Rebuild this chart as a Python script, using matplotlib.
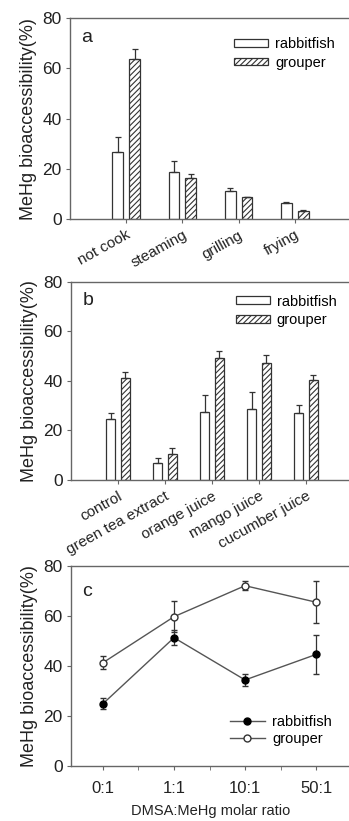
import numpy as np
import matplotlib
matplotlib.use('Agg')
import matplotlib.pyplot as plt
from matplotlib.lines import Line2D

# panel a: cooking treatments
cook_labels = ['not cook', 'steaming', 'grilling', 'frying']
cook_rabbit = [26.6, 18.7, 11.2, 6.5]
cook_rabbit_err = [5.9, 4.5, 1.0, 0.3]
cook_grouper = [63.7, 16.3, 8.6, 3.3]
cook_grouper_err = [4.0, 1.6, 0.3, 0.3]

# panel b: food additives
food_labels = ['control', 'green tea extract', 'orange juice', 'mango juice', 'cucumber juice']
food_rabbit = [24.6, 6.9, 27.6, 28.5, 27.0]
food_rabbit_err = [2.3, 1.8, 6.7, 7.0, 3.3]
food_grouper = [41.0, 10.6, 49.1, 47.1, 40.5]
food_grouper_err = [2.7, 2.4, 3.1, 3.5, 2.0]

# panel c: DMSA ratio
ratio_labels = ['0:1', '1:1', '10:1', '50:1']
ratio_rabbit = [24.8, 51.2, 34.3, 44.5]
ratio_rabbit_err = [2.1, 3.1, 2.5, 7.7]
ratio_grouper = [41.2, 59.6, 72.0, 65.4]
ratio_grouper_err = [2.7, 6.3, 1.7, 8.4]

plt.rcParams['font.family'] = ['Liberation Sans', 'DejaVu Sans']
plt.rcParams['hatch.linewidth'] = 0.8
plt.rcParams['hatch.color'] = '#333333'

W, H = 349, 821
dark = '#333333'
spine = '#666666'


def place(fig, left, right, top, bottom):
    # pixel box -> figure fraction
    return fig.add_axes([left / W, 1 - bottom / H, (right - left) / W, (bottom - top) / H])


def style_axes(ax):
    for s in ax.spines.values():
        s.set_color(spine)
        s.set_linewidth(1.0)
    ax.spines['right'].set_visible(False)  # cut off in the original
    ax.set_ylim(0, 80)
    ax.set_yticks([0, 20, 40, 60, 80])
    ax.tick_params(axis='y', labelsize=12.5, length=3, color=spine, labelcolor='#222222', pad=3)
    ax.tick_params(axis='x', length=3, color=spine, labelcolor='#222222')
    ax.set_ylabel('MeHg bioaccessibility(%)', fontsize=13, color='#222222', labelpad=4)


def bar_panel(ax, labels, rabbit, rabbit_err, grouper, grouper_err, letter, leg_y):
    x = np.arange(len(labels))
    w = 0.19
    off = 0.15
    ax.bar(x - off, rabbit, w, color='white', edgecolor=dark, linewidth=0.9, label='rabbitfish')
    ax.bar(x + off, grouper, w, color='white', edgecolor=dark, linewidth=0.9,
           hatch='//////', label='grouper')
    ax.errorbar(x - off, rabbit, yerr=[np.zeros(len(x)), rabbit_err], fmt='none',
                ecolor=dark, elinewidth=0.9, capsize=2.5, capthick=0.9)
    ax.errorbar(x + off, grouper, yerr=[np.zeros(len(x)), grouper_err], fmt='none',
                ecolor=dark, elinewidth=0.9, capsize=2.5, capthick=0.9)
    ax.set_xlim(-1, len(labels))
    ax.set_xticks(x)
    ax.set_xticklabels(labels, rotation=29, ha='right', rotation_mode='anchor', fontsize=11)
    style_axes(ax)
    ax.text(0.04, 0.905, letter, transform=ax.transAxes, fontsize=14, va='center', color='#222222')
    ax.legend(loc='upper left', bbox_to_anchor=(0.585, leg_y), frameon=False, fontsize=10.5,
              handlelength=2.3, handleheight=0.45, handletextpad=0.5, labelspacing=0.3,
              borderpad=0, borderaxespad=0)


fig = plt.figure(figsize=(W / 100, H / 100), dpi=100)

ax_a = place(fig, 70, 351, 18.3, 219)
bar_panel(ax_a, cook_labels, cook_rabbit, cook_rabbit_err, cook_grouper, cook_grouper_err, 'a', 0.905)

ax_b = place(fig, 71, 353, 281.7, 480)
bar_panel(ax_b, food_labels, food_rabbit, food_rabbit_err, food_grouper, food_grouper_err, 'b', 0.935)

# line plot panel
ax_c = place(fig, 71, 349.5, 565.7, 765.7)
xc = np.arange(len(ratio_labels))
ax_c.errorbar(xc, ratio_rabbit, yerr=ratio_rabbit_err, color='#555555', lw=1.0, marker='o',
              ms=5, mfc='black', mec='black', ecolor=dark, elinewidth=0.9, capsize=2.5)
ax_c.errorbar(xc, ratio_grouper, yerr=ratio_grouper_err, color='#555555', lw=1.0, marker='o',
              ms=5, mfc='white', mec=dark, ecolor=dark, elinewidth=0.9, capsize=2.5)
ax_c.set_xlim(-0.45, 3.47)
ax_c.set_xticks(xc)
ax_c.set_xticks(xc[:-1] + 0.5, minor=True)
ax_c.set_xticklabels(ratio_labels, fontsize=12)
style_axes(ax_c)
ax_c.tick_params(axis='x', which='both', length=3, color=spine, pad=8)
ax_c.set_xlabel('DMSA:MeHg molar ratio', fontsize=10.5, color='#222222', labelpad=6)
ax_c.text(0.04, 0.87, 'c', transform=ax_c.transAxes, fontsize=14, va='center', color='#222222')

# legend handles without the error bars
handles = [Line2D([], [], color='#555555', lw=1.0, marker='o', ms=5, mfc='black', mec='black'),
           Line2D([], [], color='#555555', lw=1.0, marker='o', ms=5, mfc='white', mec=dark)]
ax_c.legend(handles, ['rabbitfish', 'grouper'], loc='upper left', bbox_to_anchor=(0.57, 0.255),
            frameon=False, fontsize=10.5, handlelength=2.4, handletextpad=0.5, labelspacing=0.2,
            borderpad=0, borderaxespad=0)

fig.savefig('out.png', dpi=100)
